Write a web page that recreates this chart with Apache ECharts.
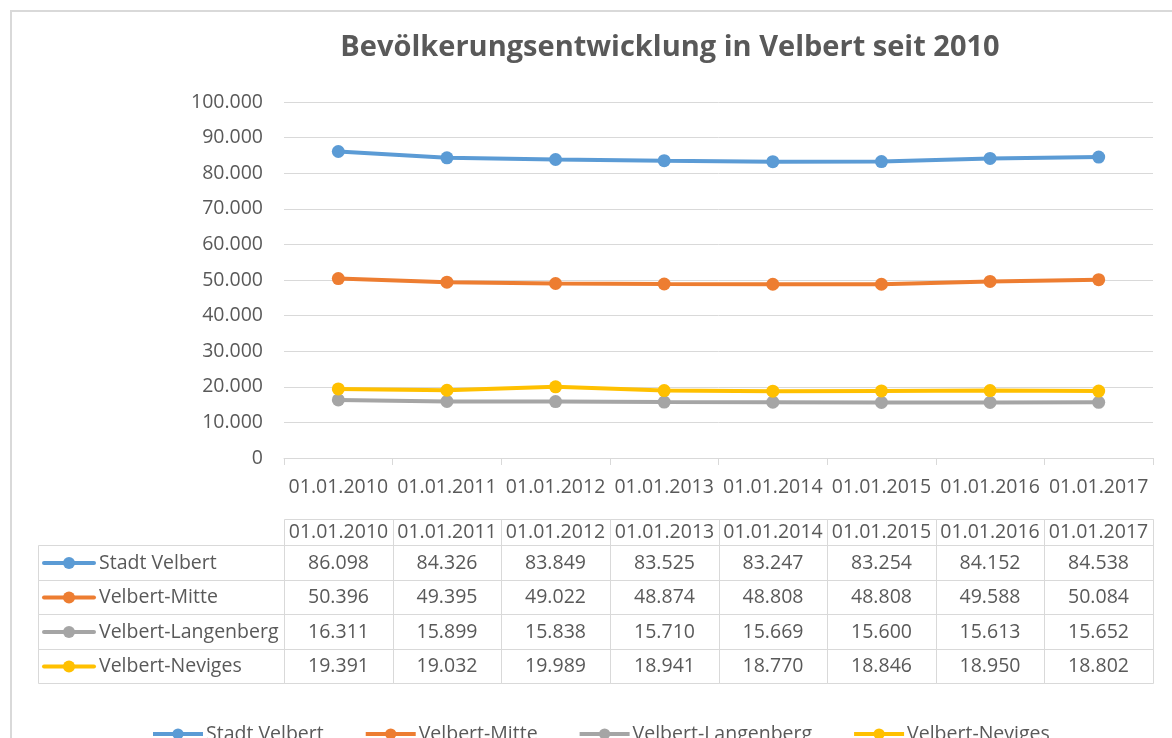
<!DOCTYPE html>
<html>
<head>
<meta charset="utf-8">
<script src="https://cdn.jsdelivr.net/npm/echarts/dist/echarts.min.js"></script>
<style>
  html, body { margin: 0; padding: 0; background: #ffffff; }
  #chart { width: 1172px; height: 738px; }
</style>
</head>
<body>
<div id="chart"></div>
<script>
// ---- data ----
const titleText = 'Bevölkerungsentwicklung in Velbert seit 2010';
const categories = ['01.01.2010', '01.01.2011', '01.01.2012', '01.01.2013', '01.01.2014', '01.01.2015', '01.01.2016', '01.01.2017'];
const seriesNames = ['Stadt Velbert', 'Velbert-Mitte', 'Velbert-Langenberg', 'Velbert-Neviges'];
const stadtVelbert = [86098, 84326, 83849, 83525, 83247, 83254, 84152, 84538];
const velbertMitte = [50396, 49395, 49022, 48874, 48808, 48808, 49588, 50084];
const velbertLangenberg = [16311, 15899, 15838, 15710, 15669, 15600, 15613, 15652];
const velbertNeviges = [19391, 19032, 19989, 18941, 18770, 18846, 18950, 18802];
const yMin = 0, yMax = 100000, yStep = 10000;

// ---- style ----
const colors = ['#5B9BD5', '#ED7D31', '#A5A5A5', '#FFC000'];
const FONT = '"Open Sans", "Noto Sans", sans-serif';
const TXT = '#595959';
const LINE = '#d9d9d9';
const FS = 19.5;

function fmt(v) {
  const s = String(Math.round(v));
  return s.replace(/\B(?=(\d{3})+(?!\d))/g, '.');
}

const allSeries = [stadtVelbert, velbertMitte, velbertLangenberg, velbertNeviges];

const chart = echarts.init(document.getElementById('chart'), null, { renderer: 'canvas' });

const option = {
  backgroundColor: '#ffffff',
  animation: false,
  color: colors,
  textStyle: { fontFamily: FONT },
  grid: { left: 284, right: 19, top: 102, bottom: 280, containLabel: false },
  xAxis: {
    type: 'category',
    data: categories,
    boundaryGap: true,
    axisLine: { show: true, lineStyle: { color: LINE, width: 1 } },
    axisTick: { show: true, interval: 0, length: 7, lineStyle: { color: LINE } },
    axisLabel: { interval: 0, margin: 19, color: TXT, fontSize: FS, fontFamily: FONT },
    splitLine: { show: false }
  },
  yAxis: {
    type: 'value',
    min: yMin, max: yMax, interval: yStep,
    axisLine: { show: false },
    axisTick: { show: false },
    axisLabel: { margin: 21, color: TXT, fontSize: FS, fontFamily: FONT, formatter: fmt },
    splitLine: { show: true, lineStyle: { color: LINE, width: 1 } }
  },
  legend: {
    data: seriesNames,
    left: 151,
    top: 724,
    padding: 0,
    itemWidth: 50,
    itemHeight: 14,
    itemGap: 40,
    lineStyle: { width: 4 },
    textStyle: { color: TXT, fontSize: FS, fontFamily: FONT, padding: [0, 0, 0, -2] }
  },
  series: seriesNames.map((name, i) => ({
    name: name,
    type: 'line',
    data: allSeries[i],
    symbol: 'circle',
    symbolSize: 13,
    showSymbol: true,
    lineStyle: { width: 4, color: colors[i] },
    itemStyle: { color: colors[i] },
    emphasis: { disabled: true }
  }))
};

chart.setOption(option);

// ---- title, frame and data table (positions derived from the category axis) ----
const centers = categories.map(c => chart.convertToPixel({ xAxisIndex: 0 }, c));
const bw = centers[1] - centers[0];
const bounds = centers.map(c => Math.round(c - bw / 2));
bounds.push(Math.round(centers[centers.length - 1] + bw / 2));
const tableLeft = 38;
const headerTop = 519;
const headerH = 26;
const rowH = 34.6;
const rowTop = headerTop + headerH;
const rowBounds = seriesNames.map((n, r) => Math.round(rowTop + r * rowH));
rowBounds.push(Math.round(rowTop + seriesNames.length * rowH));

const g = [];
g.push({
  type: 'rect', silent: true,
  shape: { x: 11, y: 11, width: 1400, height: 1000 },
  style: { fill: 'none', stroke: LINE, lineWidth: 2 }
});
g.push({
  type: 'text', silent: true, x: 670, y: 48,
  style: { text: titleText, fill: TXT, fontSize: 29, fontWeight: 'bold', fontFamily: FONT, align: 'center', verticalAlign: 'middle' }
});

function cellRect(x0, y0, x1, y1) {
  return {
    type: 'rect', silent: true,
    shape: { x: x0 + 0.5, y: y0 + 0.5, width: x1 - x0, height: y1 - y0 },
    style: { fill: 'none', stroke: LINE, lineWidth: 1 }
  };
}
function cellText(txt, x, y, align) {
  return {
    type: 'text', silent: true, x: x, y: y,
    style: { text: txt, fill: TXT, fontSize: FS, fontFamily: FONT, align: align || 'center', verticalAlign: 'middle' }
  };
}

// header row
categories.forEach((c, i) => {
  g.push(cellRect(bounds[i], headerTop, bounds[i + 1], headerTop + headerH));
  g.push(cellText(c, (bounds[i] + bounds[i + 1]) / 2, headerTop + headerH / 2 + 0.5));
});

// data rows
seriesNames.forEach((name, r) => {
  const y0 = rowBounds[r], y1 = rowBounds[r + 1];
  const cy = (y0 + y1) / 2 + 0.5;
  g.push(cellRect(tableLeft, y0, bounds[0], y1));
  g.push({
    type: 'line', silent: true,
    shape: { x1: tableLeft + 6, y1: cy, x2: tableLeft + 56, y2: cy },
    style: { stroke: colors[r], lineWidth: 4, lineCap: 'round' }
  });
  g.push({
    type: 'circle', silent: true,
    shape: { cx: tableLeft + 31, cy: cy, r: 6 },
    style: { fill: colors[r] }
  });
  g.push(cellText(name, tableLeft + 61, cy, 'left'));
  allSeries[r].forEach((v, i) => {
    g.push(cellRect(bounds[i], y0, bounds[i + 1], y1));
    g.push(cellText(fmt(v), (bounds[i] + bounds[i + 1]) / 2, cy));
  });
});

chart.setOption({ graphic: g });
</script>
</body>
</html>
